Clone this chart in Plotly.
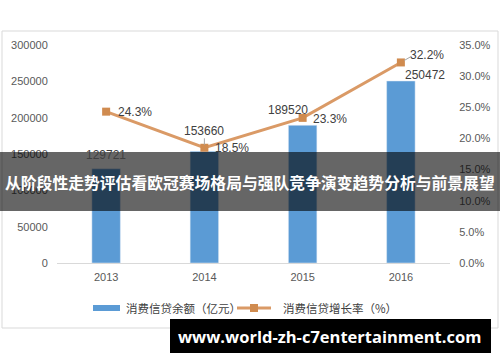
import plotly.graph_objects as go

# ---- data ----
years = ["2013", "2014", "2015", "2016"]
balance = [129721, 153660, 189520, 250472]          # 消费信贷余额（亿元）
growth = [24.3, 18.5, 23.3, 32.2]                   # 消费信贷增长率（%）
balance_labels = ["129721", "153660", "189520", "250472"]
growth_labels = ["24.3%", "18.5%", "23.3%", "32.2%"]
left_ticks = [0, 50000, 100000, 150000, 200000, 250000, 300000]
left_tick_text = ["0", "50000", "100000", "150000", "200000", "250000", "300000"]
right_ticks = [0, 5, 10, 15, 20, 25, 30, 35]
right_tick_text = ["0.0%", "5.0%", "10.0%", "15.0%", "20.0%", "25.0%", "30.0%", "35.0%"]
title_text = "从阶段性走势评估看欧冠赛场格局与强队竞争演变趋势分析与前景展望"
watermark = "www.world-zh-c7entertainment.com"
legend_names = ["消费信贷余额（亿元）", "消费信贷增长率（%）"]

# ---- layout helpers (pixel -> paper) ----
W, H = 500, 362
ML, MR, MT, MB = 57, 50, 45, 99
PW, PH = W - ML - MR, H - MT - MB
def to_px(x):
    return (x - ML) / PW
def to_py(y):
    return (H - MB - y) / PH

BLUE = "#5B9BD5"
LINE = "#DA9A66"
MARK = "#D08B4F"
TXT = "#404040"
NUMF = "Liberation Sans, Arial, sans-serif"
CJK = "Noto Sans CJK SC, sans-serif"

fig = go.Figure()
fig.add_trace(go.Bar(x=years, y=balance, marker_color=BLUE, name=legend_names[0],
                     width=0.29, showlegend=False))
fig.add_trace(go.Scatter(x=years, y=growth, yaxis="y2", mode="lines+markers",
                         line=dict(color=LINE, width=3),
                         marker=dict(symbol="square", size=8, color=MARK),
                         name=legend_names[1], showlegend=False))

ann = []
# bar value labels (shifts in pixels); x given as category index
bar_shift = [(0, 14), (0, 20), (-15, 15), (24, 6)]
for i, (v, t) in enumerate(zip(balance, balance_labels)):
    dx, dy = bar_shift[i]
    ann.append(dict(x=i, y=v, xref="x", yref="y", text=t, showarrow=False,
                    xshift=dx, yshift=dy, font=dict(family=NUMF, size=12, color=TXT)))
# growth labels
g_shift = [(29, 0), (28, 0), (27, -1), (26, 7)]
for i, (v, t) in enumerate(zip(growth, growth_labels)):
    dx, dy = g_shift[i]
    ann.append(dict(x=i, y=v, xref="x", yref="y2", text=t, showarrow=False,
                    xshift=dx, yshift=dy, font=dict(family=NUMF, size=12, color=TXT)))
# leader lines
ann.append(dict(x=3, y=growth[3], xref="x", yref="y2", ax=12, ay=-7,
                text="", showarrow=True, arrowhead=0, arrowwidth=1,
                arrowcolor="#A6A6A6", standoff=4))
ann.append(dict(x=1, y=growth[1], xref="x", yref="y2", ax=0, ay=-11,
                text="", showarrow=True, arrowhead=0, arrowwidth=1,
                arrowcolor="#A6A6A6", standoff=3))

# legend text
ann.append(dict(x=to_px(124), y=to_py(308), xref="paper", yref="paper", text=legend_names[0],
                showarrow=False, xanchor="left", yanchor="middle",
                font=dict(family=CJK, size=11.5, color=TXT)))
ann.append(dict(x=to_px(281), y=to_py(308), xref="paper", yref="paper", text=legend_names[1],
                showarrow=False, xanchor="left", yanchor="middle",
                font=dict(family=CJK, size=11.5, color=TXT)))
# overlay title
ann.append(dict(x=to_px(250), y=to_py(182), xref="paper", yref="paper", text="<b>" + title_text + "</b>",
                showarrow=False, xanchor="center", yanchor="middle",
                font=dict(family=CJK, size=15.8, color="white")))
# watermark
ann.append(dict(x=to_px(329), y=to_py(336), xref="paper", yref="paper", text="<b>" + watermark + "</b>",
                showarrow=False, xanchor="center", yanchor="middle",
                font=dict(family="Open Sans, sans-serif", size=16.5, color="white")))

shapes = [
    # chart frame
    dict(type="rect", xref="paper", yref="paper", x0=to_px(2), x1=to_px(498), y0=to_py(328), y1=to_py(31),
         line=dict(color="#D9D9D9", width=1), fillcolor="rgba(0,0,0,0)", layer="below"),
    # legend symbols
    dict(type="rect", xref="paper", yref="paper", x0=to_px(93), x1=to_px(120), y0=to_py(311), y1=to_py(305),
         line=dict(width=0), fillcolor=BLUE),
    dict(type="line", xref="paper", yref="paper", x0=to_px(237), x1=to_px(271), y0=to_py(308), y1=to_py(308),
         line=dict(color=LINE, width=3)),
    dict(type="rect", xref="paper", yref="paper", x0=to_px(250), x1=to_px(258), y0=to_py(312), y1=to_py(304),
         line=dict(width=0), fillcolor=MARK),
    # title overlay band
    dict(type="rect", xref="paper", yref="paper", x0=to_px(0), x1=to_px(500), y0=to_py(211), y1=to_py(152),
         line=dict(width=0), fillcolor="rgba(0,0,0,0.6)", layer="above"),
    # watermark band
    dict(type="rect", xref="paper", yref="paper", x0=to_px(170), x1=to_px(491), y0=to_py(353), y1=to_py(319),
         line=dict(width=0), fillcolor="black", layer="above"),
]

fig.update_layout(
    width=W, height=H,
    margin=dict(l=ML, r=MR, t=MT, b=MB),
    paper_bgcolor="white", plot_bgcolor="white",
    showlegend=False,
    xaxis=dict(type="category", range=[-0.5, len(years) - 0.5], showgrid=False,
               showline=True, linecolor="#D9D9D9", linewidth=1,
               ticks="", ticklabelstandoff=4,
               tickfont=dict(family=NUMF, size=11, color="#595959"),
               fixedrange=True, automargin=False),
    yaxis=dict(range=[0, 300000], tickvals=left_ticks, ticktext=left_tick_text,
               showgrid=False, zeroline=False, automargin=False,
               showline=False, tickfont=dict(family=NUMF, size=11, color="#595959"),
               ticks="outside", ticklen=6, tickcolor="rgba(0,0,0,0)"),
    yaxis2=dict(range=[0, 35], tickvals=right_ticks, ticktext=right_tick_text,
                overlaying="y", side="right", showgrid=False, zeroline=False, automargin=False,
                showline=False, tickfont=dict(family=NUMF, size=11, color="#595959"),
                ticks="outside", ticklen=6, tickcolor="rgba(0,0,0,0)"),
    annotations=ann, shapes=shapes,
)

fig.write_html("out.html", config={"displayModeBar": False},
               post_script="document.body.style.margin='0';")
